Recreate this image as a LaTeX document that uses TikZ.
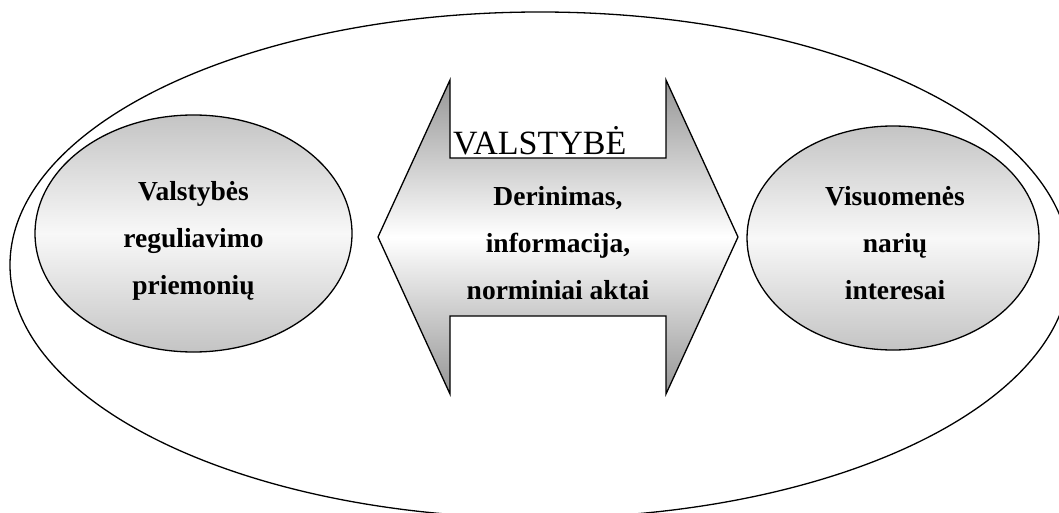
\documentclass[tikz,border=0pt]{standalone}
\usepackage{fontspec}
\setmainfont{Liberation Serif}
\usetikzlibrary{shapes.geometric}
\definecolor{elgray}{HTML}{C4C4C4}
\definecolor{elwhite}{HTML}{F8F8F8}
\definecolor{argray}{HTML}{959595}
\tikzset{
  outline/.style={draw=black, line width=1.3pt},
  oval/.style={outline, ellipse, inner sep=0pt, top color=elgray, bottom color=elgray, middle color=elwhite},
  boldtxt/.style={inner sep=0pt, align=center, font=\fontsize{27.5}{47}\selectfont\bfseries},
}
\begin{document}
\begin{tikzpicture}[x=1pt,y=-1pt]
\useasboundingbox (0,0) rectangle (1059,513);
\clip (0,0) rectangle (1059,513);
\fill[white] (0,0) rectangle (1059,513);
% outer ellipse
\node[outline, ellipse, inner sep=0pt, minimum width=1060pt, minimum height=506pt] (outer) at (540,265) {};
% left ellipse
\node[oval, minimum width=317pt, minimum height=237pt] (lefte) at (193.5,233.5) {};
\node[boldtxt] (lefttxt) at (193.5,240.5) {Valstybės\\reguliavimo\\priemonių};
% right ellipse
\node[oval, minimum width=292pt, minimum height=224pt] (righte) at (893,238) {};
\node[boldtxt] (righttxt) at (895,243.5) {Visuomenės\\narių\\interesai};
% double arrow
\path[outline, top color=argray, bottom color=argray, middle color=white]
  (378,237) -- (450,80) -- (450,158) -- (666,158) -- (666,80) -- (738,237)
  -- (666,394) -- (666,316) -- (450,316) -- (450,394) -- cycle;
\node[anchor=base west, inner sep=0pt, font=\fontsize{34}{40}\selectfont] (valst) at (453,155) {VALSTYBĖ};
\node[boldtxt] (arrowtxt) at (558,243) {Derinimas,\\informacija,\\norminiai aktai};
\end{tikzpicture}
\end{document}
